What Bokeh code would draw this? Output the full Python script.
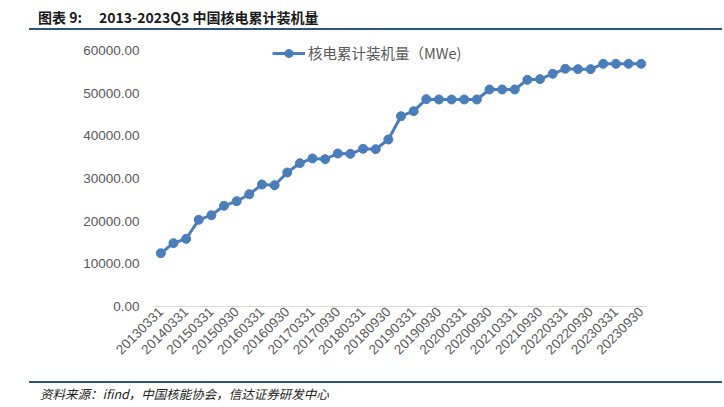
import math
from bokeh.plotting import figure
from bokeh.layouts import column
from bokeh.models import (FixedTicker, NumeralTickFormatter, Legend, LegendItem,
                          Range1d, ColumnDataSource, Div)
from bokeh.embed import file_html
from bokeh.resources import INLINE

# ---------------- data ----------------
dates = ["20130331", "20130930", "20140331", "20140930", "20150331", "20150630",
         "20150930", "20151231", "20160331", "20160630", "20160930", "20161231",
         "20170331", "20170630", "20170930", "20171231", "20180331", "20180630",
         "20180930", "20181231", "20190331", "20190630", "20190930", "20191231",
         "20200331", "20200630", "20200930", "20201231", "20210331", "20210630",
         "20210930", "20211231", "20220331", "20220630", "20220930", "20221231",
         "20230331", "20230630", "20230930"]
capacity = [12490, 14840, 15870, 20320, 21400, 23600, 24680, 26320, 28590, 28430,
            31400, 33590, 34690, 34530, 35860, 35780, 36960, 36870, 39140, 44600,
            45780, 48590, 48520, 48520, 48520, 48520, 50860, 50860, 50860, 53130,
            53290, 54540, 55710, 55630, 55630, 56880, 56880, 56880, 56880]
series_name = "核电累计装机量（MWe)"
title_prefix = "图表 9:"
title_main = "2013-2023Q3 中国核电累计装机量"
source_text = "资料来源：ifind，中国核能协会，信达证券研发中心"
y_ticks = [0, 10000, 20000, 30000, 40000, 50000, 60000]

# ---------------- layout ----------------
TOTAL_W = 724
TITLE_H = 31
SRC_H = 29
W, H = TOTAL_W, 378 - TITLE_H
FRAME_TOP, FRAME_BOTTOM = 40, 306      # page pixels
Y_TOP_PX = 50                           # page pixel of the 60000 tick
ML, MR, MT, MB = 154, 77, FRAME_TOP - TITLE_H, 378 - FRAME_BOTTOM
Y_MAX = 60000 * (FRAME_BOTTOM - FRAME_TOP) / (FRAME_BOTTOM - Y_TOP_PX)
N = len(dates)

BLUE = "#4A7EBB"
GREY = "#595959"
NAVY = "#2B5583"

title_div = Div(width=TOTAL_W, height=TITLE_H, margin=0, text=(
    f'<div style="position:relative;width:{TOTAL_W}px;height:{TITLE_H}px;'
    'font-family:\'Noto Sans CJK SC\';font-weight:bold;font-size:14px;color:#1A1A1A;">'
    f'<span style="position:absolute;left:38px;top:7px;line-height:20px;white-space:nowrap;">{title_prefix}</span>'
    f'<span style="position:absolute;left:99px;top:7px;line-height:20px;white-space:nowrap;">{title_main}</span>'
    f'<div style="position:absolute;left:29px;top:28px;width:{TOTAL_W - 31}px;height:2px;background:{NAVY};"></div>'
    '</div>'))

source_div = Div(width=TOTAL_W, height=SRC_H, margin=0, text=(
    f'<div style="position:relative;width:{TOTAL_W}px;height:{SRC_H}px;'
    'font-family:\'Noto Sans CJK SC\';font-style:italic;font-size:12.5px;color:#222222;">'
    f'<div style="position:absolute;left:29px;top:3px;width:{TOTAL_W - 31}px;height:2px;background:{NAVY};"></div>'
    f'<span style="position:absolute;left:40px;top:7px;line-height:18px;white-space:nowrap;">{source_text}</span>'
    '</div>'))

idx = list(range(N))
src = ColumnDataSource(data=dict(x=idx, y=capacity))

p = figure(width=W, height=H, output_backend="svg", toolbar_location=None,
           x_range=Range1d(-0.5, N - 0.5), y_range=Range1d(0, Y_MAX),
           min_border_left=ML, min_border_right=MR,
           min_border_top=MT, min_border_bottom=MB, margin=0)
p.outline_line_color = None
p.xgrid.grid_line_color = None
p.ygrid.grid_line_color = None
p.background_fill_color = "white"
p.border_fill_color = "white"

ln = p.line("x", "y", source=src, line_color=BLUE, line_width=3)
sc = p.scatter("x", "y", source=src, size=9, fill_color=BLUE, line_color=BLUE)

# x axis
xa = p.xaxis[0]
xa.ticker = FixedTicker(ticks=list(range(0, N, 2)))
xa.major_label_overrides = {i: dates[i] for i in range(0, N, 2)}
xa.major_label_orientation = math.pi / 4
xa.axis_line_color = "#D9D9D9"
xa.axis_line_width = 1
xa.major_tick_line_color = None
xa.minor_tick_line_color = None
xa.major_tick_out = 0
xa.major_label_standoff = 3
xa.major_label_text_font = "Liberation Sans"
xa.major_label_text_font_size = "13.5px"
xa.major_label_text_color = GREY

# y axis
ya = p.yaxis[0]
ya.ticker = FixedTicker(ticks=y_ticks)
ya.formatter = NumeralTickFormatter(format="0.00")
ya.axis_line_color = None
ya.major_tick_line_color = None
ya.minor_tick_line_color = None
ya.major_tick_out = 0
ya.major_label_standoff = 15
ya.major_label_text_font = "Liberation Sans"
ya.major_label_text_font_size = "13.5px"
ya.major_label_text_color = GREY

# legend
legend = Legend(items=[LegendItem(label=series_name, renderers=[ln, sc])],
                location=(118, 243), orientation="horizontal",
                padding=0, margin=0, border_line_color=None,
                background_fill_alpha=0, glyph_width=33, glyph_height=20,
                label_standoff=3, label_text_font="Noto Sans CJK SC",
                label_text_font_size="14.5px", label_text_color=GREY)
p.add_layout(legend)

layout = column(title_div, p, source_div, spacing=0, margin=0)
open("out.html", "w").write(file_html(layout, INLINE))
